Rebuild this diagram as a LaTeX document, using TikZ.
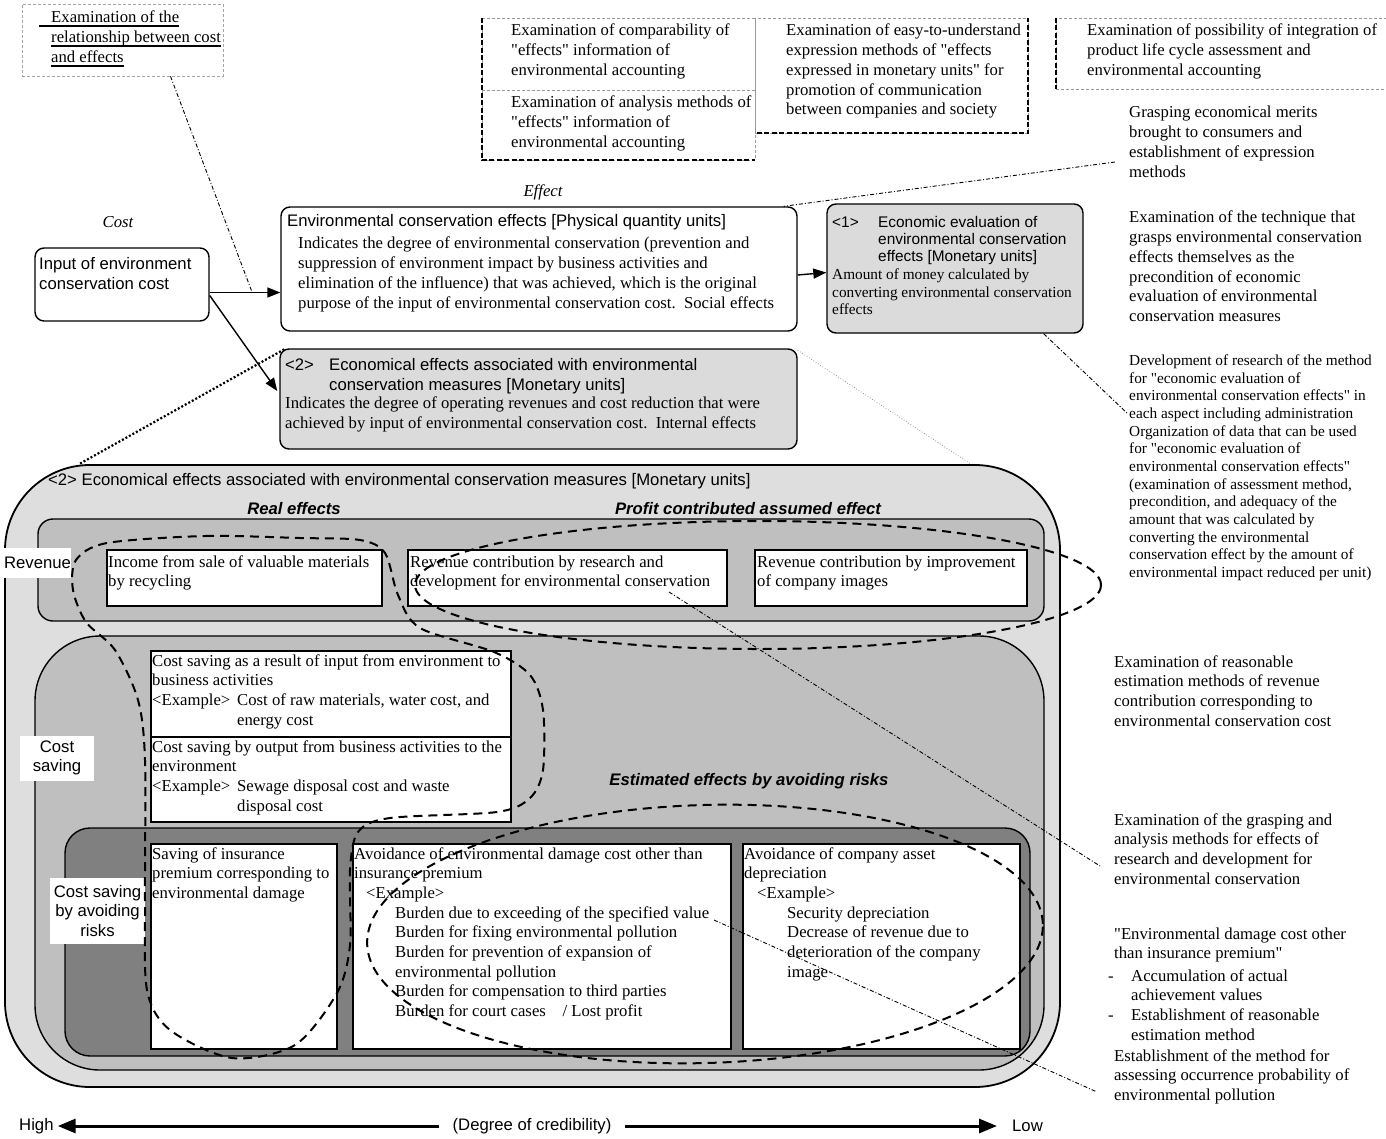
\documentclass[tikz,border=0pt]{standalone}
\usepackage{fontspec}
\setmainfont{Liberation Serif}[Ligatures=TeXOff]
\newfontfamily\arialf{Liberation Sans}[Ligatures=TeXOff]
\usetikzlibrary{arrows.meta}
\newcommand\fRm{\fontsize{16.7}{19.7}\selectfont}
\newcommand\fSm{\fontsize{15.3}{17.67}\selectfont}
\newcommand\fSs{\arialf\fontsize{16.7}{19.7}\selectfont}
\newcommand\fSsm{\arialf\fontsize{15.4}{17}\selectfont}
\definecolor{lgray}{gray}{0.87}
\definecolor{mgray}{gray}{0.75}
\definecolor{dgray}{gray}{0.5}
\definecolor{bgray}{gray}{0.86}
\begin{document}
\begin{tikzpicture}[x=1pt,y=-1pt,
  txt/.style={anchor=north west,inner sep=0pt,align=left,font=\fRm},
  stxt/.style={anchor=north west,inner sep=0pt,align=left,font=\fSm},
  sstxt/.style={anchor=north west,inner sep=0pt,align=left,font=\fSs},
  lab/.style={fill=white,inner sep=0pt,align=center,font=\fSs},
  box/.style={draw,line width=1.4pt,inner sep=0pt},
  rbox/.style={box,rounded corners=9pt},
  wbox/.style={box,fill=white},
  thindash/.style={draw=gray!80,line width=0.6pt,dash pattern=on 3pt off 2pt},
  thdash/.style={line width=2.2pt,dash pattern=on 5pt off 2.5pt},
  edash/.style={line width=2pt,dash pattern=on 9pt off 6pt},
  conn/.style={line width=0.9pt,dash pattern=on 4pt off 2pt on 1pt off 2pt},
  arr/.style={line width=1.4pt,-{Triangle[length=13pt,width=10pt]}},
  bigarr/.style={line width=3pt,-{Triangle[length=18pt,width=14pt]}}]
\useasboundingbox (0,0) rectangle (1386,1138);
\fill[white] (0,0) rectangle (1386,1138);

% ---------- top-left box ----------
\node[draw=gray!70,line width=0.6pt,densely dashed,minimum width=201pt,minimum height=72pt,inner sep=0pt] (relbox) at (122.5,40) {};
\node[anchor=base west,inner sep=0pt,font=\fRm] (rel1) at (51,22) {Examination of the};
\node[anchor=base west,inner sep=0pt,font=\fRm] (rel2) at (51,42) {relationship between cost};
\node[anchor=base west,inner sep=0pt,font=\fRm] (rel3) at (51,62) {and effects};
\draw[line width=1.6pt] ([xshift=-12pt,yshift=-4pt]rel1.base west) -- ([yshift=-4pt]rel1.base east);
\draw[line width=1.6pt] ([yshift=-4pt]rel2.base west) -- ([yshift=-4pt]rel2.base east);
\draw[line width=1.6pt] ([yshift=-4pt]rel3.base west) -- ([yshift=-4pt]rel3.base east);

% ---------- top middle boxes ----------
\node[thindash,minimum width=273pt,minimum height=142pt,inner sep=0pt] (ex1) at (618.5,89) {};
\node[thindash,minimum width=273pt,minimum height=115pt,inner sep=0pt] (ex2) at (891.5,75.5) {};
\node[thindash,minimum width=340pt,minimum height=71pt,inner sep=0pt] (ex3) at (1226,53.5) {};
\draw[thindash] (ex1.west) ++(0,1) -- (ex1.east |- 0,90);
\draw[thdash] (ex1.north west) -- (ex1.south west) -- (ex1.south east);
\draw[thdash] ([xshift=2pt]ex2.south west) -- (ex2.south east) -- (ex2.north east);
\draw[thdash] (ex3.north west) -- (ex3.south west);
\node[txt] (ex1t) at (511,22) {\strut Examination of comparability of\\"effects" information of\\environmental accounting};
\node[txt] (ex1b) at (511,94) {\strut Examination of analysis methods of\\"effects" information of\\environmental accounting};
\node[txt] (ex2t) at (786,22) {\strut Examination of easy-to-understand\\expression methods of "effects\\expressed in monetary units" for\\promotion of communication\\between companies and society};
\node[txt] (ex3t) at (1087,22) {\strut Examination of possibility of integration of\\product life cycle assessment and\\environmental accounting};
\node[txt] (grasp) at (1129,104) {\strut Grasping economical merits\\brought to consumers and\\establishment of expression\\methods};

% ---------- cost / effect flow ----------
\node[font=\fRm\itshape,inner sep=0pt] (efflab) at (543,192) {Effect};
\node[font=\fRm\itshape,inner sep=0pt] (costlab) at (118,222) {Cost};
\node[rbox,fill=white,minimum width=174pt,minimum height=73pt] (input) at (122,284.5) {};
\node[sstxt] (inputt) at (39,256) {\strut Input of environment\\conservation cost};
\node[rbox,fill=white,minimum width=516pt,minimum height=124pt] (env) at (539,269) {};
\node[sstxt] (envt) at (287,213) {\strut Environmental conservation effects [Physical quantity units]};
\node[txt] (envb) at (298,235) {\strut Indicates the degree of environmental conservation (prevention and\\suppression of environment impact by business activities and\\elimination of the influence) that was achieved, which is the original\\purpose of the input of environmental conservation cost.\ \ Social effects};
\node[rbox,fill=bgray,minimum width=256pt,minimum height=129pt] (one) at (955,268.5) {};
\node[anchor=north west,inner sep=0pt,font=\fSsm] (onen) at (832,215) {\strut <1>};
\node[anchor=north west,inner sep=0pt,align=left,font=\fSsm] (onet) at (878,215) {\strut Economic evaluation of\\environmental conservation\\effects [Monetary units]};
\node[stxt] (oneb) at (832,267) {\strut Amount of money calculated by\\converting environmental conservation\\effects};
\node[rbox,fill=bgray,minimum width=517pt,minimum height=100pt] (two) at (538.5,399) {};
\node[sstxt] (twon) at (285,357) {\strut <2>};
\node[sstxt] (twot) at (329,357) {\strut Economical effects associated with environmental\\conservation measures [Monetary units]};
\node[txt] (twob) at (285,395) {\strut Indicates the degree of operating revenues and cost reduction that were\\achieved by input of environmental conservation cost.\ \ Internal effects};
\draw[arr] ([yshift=-8pt]input.east) -- ([yshift=-8pt]input.east -| env.west);
\draw[arr] ([yshift=-11pt]input.east) -- ([xshift=-2pt,yshift=8pt]two.west);
\draw[arr] ([yshift=-6pt]env.east) -- ([yshift=-4pt]one.west);

% ---------- right column ----------
\node[txt] (tech) at (1129,209) {\strut Examination of the technique that\\grasps environmental conservation\\effects themselves as the\\precondition of economic\\evaluation of environmental\\conservation measures};
\node[stxt] (dev) at (1129,353) {\strut Development of research of the method\\for "economic evaluation of\\environmental conservation effects" in\\each aspect including administration\\Organization of data that can be used\\for "economic evaluation of\\environmental conservation effects"\\(examination of assessment method,\\precondition, and adequacy of the\\amount that was calculated by\\converting the environmental\\conservation effect by the amount of\\environmental impact reduced per unit)};
\node[txt] (revest) at (1114,653) {\strut Examination of reasonable\\estimation methods of revenue\\contribution corresponding to\\environmental conservation cost};
\node[txt] (anal) at (1114,811) {\strut Examination of the grasping and\\analysis methods for effects of\\research and development for\\environmental conservation};
\node[txt] (dmg1) at (1114,925) {\strut "Environmental damage cost other\\than insurance premium"};
\node[txt] (dmg2) at (1131,967) {\strut Accumulation of actual\\achievement values\\Establishment of reasonable\\estimation method};
\node[txt] (dash1) at (1108,967) {\strut -};
\node[txt] (dash2) at (1108,1006.5) {\strut -};
\node[txt] (dmg3) at (1114,1047) {\strut Establishment of the method for\\assessing occurrence probability of\\environmental pollution};

% ---------- big box ----------
\node[draw,fill=lgray,line width=1.8pt,rounded corners=85pt,minimum width=1055pt,minimum height=622pt,inner sep=0pt] (outer) at (532.5,776) {};
\node[sstxt] (outt) at (48,472) {\strut <2> Economical effects associated with environmental conservation measures [Monetary units]};
\node[font=\fSs\bfseries\itshape,inner sep=0pt] (realt) at (294,509) {Real effects};
\node[font=\fSs\bfseries\itshape,inner sep=0pt] (proft) at (748,509) {Profit contributed assumed effect};
\node[box,fill=mgray,rounded corners=15pt,minimum width=1006pt,minimum height=102pt] (revband) at (541,570) {};
\node[wbox,minimum width=275pt,minimum height=56pt] (rb1) at (244.5,578) {};
\node[wbox,minimum width=319pt,minimum height=56pt] (rb2) at (567.5,578) {};
\node[wbox,minimum width=272pt,minimum height=56pt] (rb3) at (891,578) {};
\node[txt] (rb1t) at (108,553) {\strut Income from sale of valuable materials\\by recycling};
\node[txt] (rb2t) at (410,553) {\strut Revenue contribution by research and\\development for environmental conservation};
\node[txt] (rb3t) at (757,553) {\strut Revenue contribution by improvement\\of company images};
\node[lab,minimum width=65pt,minimum height=30pt] (revlab) at (37.5,563) {Revenue};

\node[box,fill=mgray,rounded corners=65pt,minimum width=1009pt,minimum height=434pt] (costband) at (539.5,853) {};
\node[wbox,minimum width=360pt,minimum height=86pt] (csA) at (331,694) {};
\node[wbox,minimum width=360pt,minimum height=85pt] (csB) at (331,779.5) {};
\node[txt] (csAt) at (152,652) {\strut Cost saving as a result of input from environment to\\business activities\\\makebox[85pt][l]{<Example>}Cost of raw materials, water cost, and\\\hspace*{85pt}energy cost};
\node[txt] (csBt) at (152,738) {\strut Cost saving by output from business activities to the\\environment\\\makebox[85pt][l]{<Example>}Sewage disposal cost and waste\\\hspace*{85pt}disposal cost};
\node[lab,minimum width=74pt,minimum height=45pt] (cslab) at (57,758) {Cost\\saving};
\node[font=\fSs\bfseries\itshape,inner sep=0pt] (estt) at (749,781) {Estimated effects by avoiding risks};

\node[box,fill=dgray,rounded corners=25pt,minimum width=965pt,minimum height=228pt] (riskband) at (547.5,942) {};
\node[wbox,minimum width=186pt,minimum height=205pt] (rS) at (244,946.5) {};
\node[wbox,minimum width=378pt,minimum height=205pt] (rV) at (542,946.5) {};
\node[wbox,minimum width=277pt,minimum height=205pt] (rC) at (881.5,946.5) {};
\node[txt] (rSt) at (152,845) {\strut Saving of insurance\\premium corresponding to\\environmental damage};
\node[txt] (rVt) at (354,845) {\strut Avoidance of environmental damage cost other than\\insurance premium\\\hspace*{12pt}<Example>\\\hspace*{41pt}Burden due to exceeding of the specified value\\\hspace*{41pt}Burden for fixing environmental pollution\\\hspace*{41pt}Burden for prevention of expansion of\\\hspace*{41pt}environmental pollution\\\hspace*{41pt}Burden for compensation to third parties\\\hspace*{41pt}Burden for court cases\ \ \ \ / Lost profit};
\node[txt] (rCt) at (744,845) {\strut Avoidance of company asset\\depreciation\\\hspace*{13pt}<Example>\\\hspace*{43pt}Security depreciation\\\hspace*{43pt}Decrease of revenue due to\\\hspace*{43pt}deterioration of the company\\\hspace*{43pt}image};
\node[lab,minimum width=95pt,minimum height=66pt] (risklab) at (97.5,911) {Cost saving\\by avoiding\\risks};

% ---------- dashed groupings ----------
\draw[edash] plot[smooth cycle] coordinates {(107,543) (205,536) (300,538) (360,540) (385,553) (398,595) (420,628) (494,652) (530,675) (543,710) (543,770) (530,798) (497,812) (390,818) (358,832) (350,870) (350,945) (337,993) (295,1045) (232,1058) (170,1030) (147,990) (145,900) (145,760) (138,700) (115,650) (86,622) (73,590) (76,560)};
\draw[edash] (758,585) ellipse [x radius=343pt,y radius=64pt];
\draw[edash] (705,934) ellipse [x radius=338pt,y radius=129pt,rotate=1.7];

% ---------- dotted links from <2> ----------
\draw[line width=2.2pt,dash pattern=on 2pt off 2pt] ([xshift=5pt,yshift=-1pt]two.north west) -- ([xshift=75pt]outer.north west);
\draw[line width=0.7pt,gray,dotted] ([yshift=-2pt]two.north east) -- ([xshift=-90pt]outer.north east);

% ---------- connectors ----------
\coordinate (c1) at (252,292);
\coordinate (c2) at (1115,162);
\coordinate (c4) at (1128,414);
\coordinate (c5) at (669,592);
\coordinate (c6) at (1100,866);
\coordinate (c7) at (714,920);
\coordinate (c8) at (1097,1092);
\draw[conn] ([xshift=48pt]relbox.south) -- (c1);
\draw[conn] (c2) -- ([xshift=-14pt]env.north east);
\draw[conn] ([xshift=-40pt]one.south east) -- (c4);
\draw[conn] (c5) -- (c6);
\draw[conn] (c7) -- (c8);

% ---------- credibility axis ----------
\node[anchor=west,inner sep=0pt,font=\fSs] (high) at (19,1126) {High};
\node[inner sep=0pt,font=\fSs] (cred) at (532,1126) {(Degree of credibility)};
\node[anchor=west,inner sep=0pt,font=\fSs] (low) at (1012,1126) {Low};
\draw[bigarr] ([xshift=-13pt]cred.west) -- ([xshift=4pt]high.east);
\draw[bigarr] ([xshift=13pt]cred.east) -- ([xshift=-15pt]low.west);
\end{tikzpicture}
\end{document}
